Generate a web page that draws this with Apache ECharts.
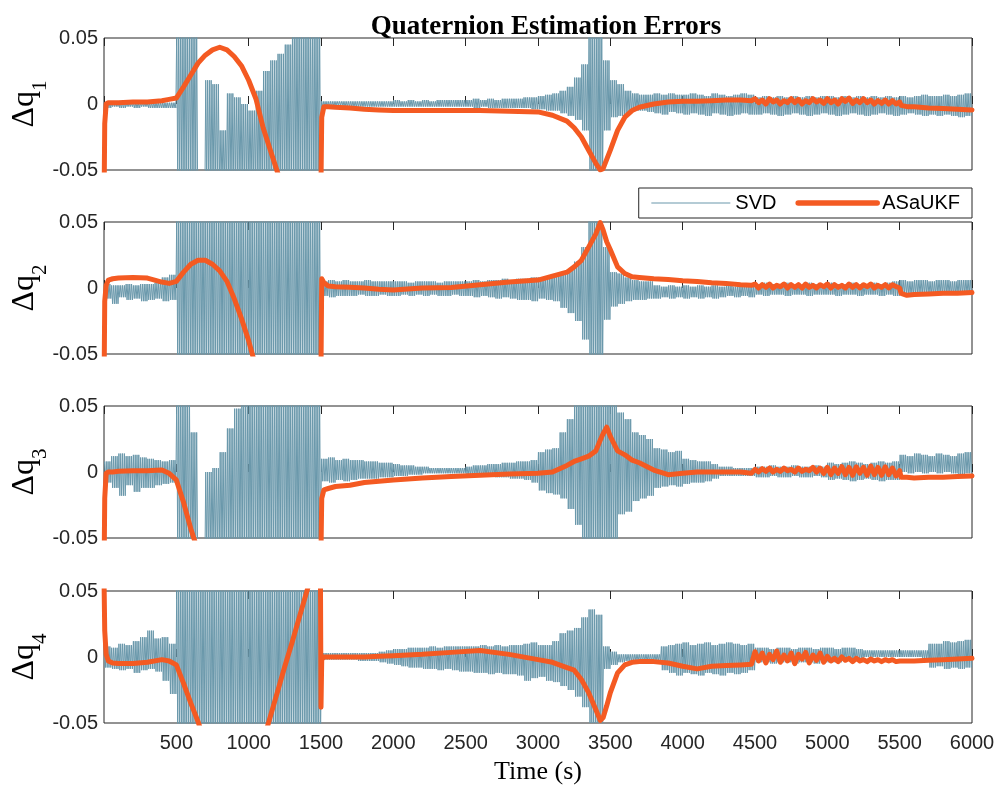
<!DOCTYPE html>
<html>
<head>
<meta charset="utf-8">
<script src="https://cdn.jsdelivr.net/npm/echarts@6/dist/echarts.min.js"></script>
<style>html,body{margin:0;padding:0;background:#fff}#c{width:1002px;height:790px}</style>
</head>
<body>
<div id="c"></div>
<script>
// ---------------- DATA (values in units of 1e-3) ----------------
const SCALE = 0.001;
const xTicks = [500,1000,1500,2000,2500,3000,3500,4000,4500,5000,5500,6000];
const yTicks = [-0.05, 0, 0.05];
const panelLabels = ['1','2','3','4'];

// SVD: upper / lower envelope of the noisy trace, read per 50 s bin (0-50, 50-100, ... 5950-6000)
const svdBin = 50;
const svdHi1 = [1,1,1,1,1,1,1,1,1,1, 60,60,60,-60,18,15,-20,8,5,0, -5,10,25,33,38,45,60,60,60,60, 2,2,2,2,2,2,2,2,2,2, 3,2,3,2,3,2,3,3,3,3, 3,4,3,4,3,4,4,4,5,5, 6,7,8,10,13,20,30,60,60,33, 18,15,10,8,7,7,8,7,8,7, 7,8,7,6,8,7,6,7,8,7, 5,6,5,6,5,6,5,6,5,6, 6,5,6,5,6,5,6,5,6,5, 6,5,6,7,6,6,7,6,7,8];
const svdLo1 = [-3,-2,-3,-2,-3,-2,-3,-3,-3,-3, -60,-60,-60,-80,-60,-60,-60,-60,-60,-60, -60,-60,-60,-60,-60,-60,-60,-60,-60,-60, -2,-2,-1,-2,-2,-2,-2,-2,-2,-2, -2,-2,-2,-2,-2,-2,-2,-2,-2,-2, -2,-3,-2,-3,-3,-3,-3,-3,-3,-4, -4,-5,-5,-7,-9,-12,-20,-55,-55,-20, -10,-9,-7,-5,-5,-6,-7,-8,-6,-7, -8,-7,-8,-9,-7,-8,-9,-8,-7,-8, -8,-7,-8,-9,-8,-7,-8,-9,-8,-7, -8,-9,-8,-7,-8,-9,-8,-7,-8,-9, -8,-7,-8,-9,-8,-9,-8,-9,-10,-9];
const svdHi2 = [3,2,2,3,2,3,3,4,8,10, 60,60,60,60,60,60,60,60,60,60, 60,60,60,60,60,60,60,60,60,60, 5,6,5,6,5,5,6,5,5,5, 5,5,4,5,5,5,4,5,5,5, 5,6,5,6,6,7,6,7,7,8, 8,8,10,12,14,20,31,55,55,31, 12,11,8,6,5,5,2,1,2,1, 2,1,2,1,2,1,2,1,2,1, 3,4,3,3,4,3,3,4,3,3, 4,3,3,4,3,3,4,3,4,5, 6,5,6,6,5,6,6,5,6,6];
const svdLo2 = [-8,-12,-7,-9,-8,-10,-9,-8,-10,-9, -60,-60,-60,-60,-60,-60,-60,-60,-60,-60, -60,-60,-60,-60,-60,-60,-60,-60,-60,-60, -6,-7,-6,-6,-6,-5,-6,-6,-5,-6, -6,-5,-6,-5,-6,-5,-6,-6,-5,-6, -6,-7,-6,-7,-8,-7,-8,-9,-9,-10, -8,-9,-10,-15,-19,-25,-39,-60,-60,-24, -14,-12,-10,-9,-9,-8,-8,-7,-8,-7, -8,-7,-8,-7,-8,-7,-6,-7,-6,-7, -5,-6,-5,-5,-6,-5,-5,-6,-5,-5, -5,-6,-5,-5,-6,-5,-5,-6,-5,-6, -4,-5,-4,-4,-5,-4,-4,-5,-4,-4];
const svdHi3 = [8,12,14,12,13,11,10,9,8,9, 60,60,30,-60,0,3,15,33,48,60, 60,60,60,60,60,60,60,60,60,60, 10,11,9,10,9,9,8,8,7,7, 6,5,5,4,4,3,3,3,3,3, 4,5,5,6,6,7,7,8,8,9, 15,17,18,30,40,55,60,60,60,60, 60,45,40,30,28,25,18,17,15,16, 10,9,8,8,6,4,4,3,3,3, 4,4,5,4,4,5,4,4,5,4, 7,6,7,8,7,6,7,8,7,8, 13,12,14,13,12,14,13,12,14,15];
const svdLo3 = [-8,-12,-18,-10,-15,-12,-12,-10,-9,-8, -60,-60,-60,-80,-60,-60,-60,-60,-60,-60, -60,-60,-60,-60,-60,-60,-60,-60,-60,-60, -7,-8,-6,-7,-6,-5,-5,-5,-4,-4, -3,-3,-2,-2,-1,-1,-1,-1,-1,-1, -2,-2,-3,-3,-4,-4,-5,-5,-6,-8, -14,-16,-17,-20,-28,-40,-60,-60,-60,-60, -55,-32,-30,-22,-20,-18,-12,-11,-10,-11, -9,-8,-8,-7,-5,-3,-3,-3,-3,-3, -4,-4,-3,-4,-4,-3,-4,-4,-3,-4, -6,-5,-6,-7,-6,-5,-6,-7,-6,-6, 0,-1,0,-1,0,-1,0,-1,-2,-1];
const svdHi4 = [8,7,10,9,12,15,20,14,15,10, 60,60,60,60,60,60,60,60,60,60, 60,60,60,60,60,60,60,60,60,60, 3,3,3,3,3,3,3,3,4,5, 6,6,7,7,7,8,7,8,8,8, 8,8,9,8,9,8,9,9,10,11, 9,9,12,18,20,22,30,36,32,8, 4,2,2,2,2,2,2,8,9,10, 11,9,10,11,9,10,11,10,9,10, 7,7,6,7,7,6,7,7,6,7, 7,6,7,7,6,5,5,5,5,5, 5,5,5,5,10,10,12,11,12,13];
const svdLo4 = [-8,-9,-10,-9,-12,-10,-9,-11,-18,-28, -60,-60,-60,-60,-60,-60,-60,-60,-60,-60, -60,-60,-60,-60,-60,-60,-60,-60,-60,-60, -2,-2,-2,-2,-2,-3,-3,-3,-4,-5, -6,-7,-8,-8,-9,-9,-10,-9,-10,-11, -11,-12,-12,-13,-12,-13,-13,-14,-18,-16, -15,-18,-19,-22,-25,-30,-38,-50,-50,-9, -6,-4,-3,-3,-3,-3,-3,-10,-12,-14, -12,-13,-14,-12,-13,-14,-12,-13,-12,-10, -4,-4,-5,-4,-4,-5,-4,-4,-5,-4, -4,-4,-3,-3,-2,0,0,0,0,0, 0,0,0,-1,-8,-7,-9,-8,-9,-8];

// ASaUKF: sample times (s) and values (units of 1e-3)
const ukfTime = [0,5,15,30,60,100,200,300,400,450,
  500,550,600,650,700,750,800,850,900,950,
  1000,1050,1100,1150,1200,1250,1300,1350,1400,1450,
  1495,1500,1505,1520,1550,1600,1700,1800,1900,2000,
  2200,2400,2600,2800,3000,3100,3200,3250,3300,3350,
  3400,3430,3450,3475,3500,3550,3600,3650,3700,3800,
  3900,4000,4100,4200,4300,4400,4475,
  4500,4525,4550,4575,4600,4625,4650,4675,4700,4725,
  4750,4775,4800,4825,4850,4875,4900,4925,4950,4975,
  5000,5025,5050,5075,5100,5125,5150,5175,5200,5225,
  5250,5275,5300,5325,5350,5375,5400,5425,5450,5475,
  5500,
  5510,5550,5600,5700,5800,5900,6000];
const ukf1 = [-80,-15,0,1,1,1,1.5,1.5,2.5,3.5,
  4.5,13,22,31,37,41,43,41,36,29,
  18,4,-18,-35,-52,-70,-90,-100,-100,-100,
  -100,-60,-10,-2,-2,-2.5,-3,-4,-4.5,-5,
  -5,-5,-5,-5.5,-6,-8.5,-13,-18,-25,-35,
  -45,-50,-49,-42,-35,-20,-10,-5,-2.5,0,
  1.5,2,2,2.5,3,3,2.5,
  4,1,3,0,4,1.5,3,0,2.5,1,
  4,1,3.5,0,2.5,1,4,1.5,3,0.5,
  4,1,3,0,4,2,4.5,0.5,3,1,
  4,1,3,0,2.5,0.5,3,0,2.5,0,
  1.5,
  -1,-2,-2,-3,-3.5,-4,-4.5];
const ukf2 = [-80,-10,2,6,7,7.5,8,7.5,4.5,3.5,
  5,12,18,21,21,18,13,5,-8,-23,
  -40,-60,-80,-100,-100,-100,-100,-100,-100,-100,
  -100,-60,7,4,1.5,1,0.5,0,-1,-1.5,
  0,0.3,2.5,4.5,6,9,12,16,21,31,
  41,49.5,44,35,29,16,11,8.5,8,7,
  6.5,5.5,5,4,3.5,2.5,2,
  3,0,2.5,0.5,3,0,2,1,3,0,
  2.5,0.5,2.5,0,3,0.5,2,0,2.5,1,
  3,0,2.5,0.5,2,0,3,0.5,2.5,0,
  2.5,1,3,0,2,0.5,2.5,0,2.5,1,
  0,
  -4,-5.5,-5,-4.5,-4,-4,-3.5];
const ukf3 = [-80,-20,-1,0,0,0.5,1,1,1.5,-1,
  -6,-23,-43,-60,-80,-100,-100,-100,-100,-100,
  -100,-100,-100,-100,-100,-100,-100,-100,-100,-100,
  -100,-60,-20,-13.5,-12.5,-11,-10,-8,-7,-6,
  -4.5,-3.5,-2.5,-1.5,-1,0,5,8,10,12,
  16,24,29,34,27,16,13,9,7,1.5,
  -2,-1,0,0,0,0,-1,
  2,0,2.5,0.5,3,0,2,0.5,3,1,
  2,0,3,0.5,2,1,3.5,0,3,-1,
  3.5,-2,3,-1,4,-2,3.5,-2.5,4,-1,
  3.5,-2.5,4.5,-2,3.5,-2.5,4,-2,3,-3,
  1,
  -4,-4,-4.5,-4,-4,-3.5,-3];
const ukf4 = [60,20,2,-3,-4.5,-5,-5,-4,-2,-3,
  -6,-20,-35,-49,-65,-80,-100,-100,-100,-100,
  -100,-100,-64,-45,-26,-7,11,30,49,68,
  90,-38,-2,0,0,0,0,0,0.5,1,
  2,3.5,5,2,-2,-4,-8,-10,-17,-27,
  -40,-48,-46,-37,-27,-12,-6,-4,-3.5,-3.5,
  -4.5,-7,-9,-7,-6.5,-6,-5.5,
  4,-3,3,-4.5,2,-2,4.5,-4,1.5,-3,
  3,-5,2,-1.5,3.5,-4.5,1.5,-2.5,3,-4,
  0.5,-3,-1,-3.5,0,-2.5,-1,-3.5,-1,-3,
  -2,-3.5,-1.5,-3,-2,-3.5,-2,-3,-2,-3.5,
  -3,
  -3,-3,-3,-2.5,-2,-1.5,-1];

const svdHi = [svdHi1, svdHi2, svdHi3, svdHi4];
const svdLo = [svdLo1, svdLo2, svdLo3, svdLo4];
const ukf = [ukf1, ukf2, ukf3, ukf4];

// ---------------- BUILD ----------------
const SVD_COLOR = '#6a98ab';
const UKF_COLOR = '#f45a22';
const SUB = 4; // hi/lo strokes drawn per envelope bin
function svdTrace(hi, lo) {
  const pts = [];
  for (let i = 0; i < hi.length; i++) {
    const t0 = i * svdBin;
    for (let k = 0; k < SUB; k++) {
      pts.push([t0 + (k + 0.25) * svdBin / SUB, hi[i] * SCALE]);
      pts.push([t0 + (k + 0.75) * svdBin / SUB, lo[i] * SCALE]);
    }
  }
  return pts;
}
function ukfTrace(v) { return ukfTime.map((t, i) => [t, v[i] * SCALE]); }

const tops = [38, 222, 406, 591];
const grid = tops.map(t => ({left: 104, right: 30, top: t, height: 132, show: true, containLabel: false,
  outerBoundsMode: 'none',
  borderColor: '#262626', borderWidth: 1, backgroundColor: 'rgba(0,0,0,0)'}));

const xAxis = [], yAxis = [], series = [];
const xMin = 0, xMax = 6000, xInt = xTicks[1] - xTicks[0];
for (let p = 0; p < 4; p++) {
  const last = p === 3;
  xAxis.push({type: 'value', gridIndex: p, min: xMin, max: xMax, interval: xInt, position: 'bottom',
    axisLine: {show: false}, splitLine: {show: false},
    axisTick: {show: true, inside: true, length: 8, lineStyle: {color: '#262626', width: 1}},
    axisLabel: {show: last, margin: 10, fontSize: 20, fontFamily: 'Liberation Sans', color: '#262626',
      formatter: v => (xTicks.indexOf(v) >= 0 ? String(v) : ''), showMinLabel: false, showMaxLabel: true},
    name: last ? 'Time (s)' : '', nameLocation: 'middle', nameGap: 36,
    nameTextStyle: {fontFamily: 'Liberation Serif', fontSize: 26, color: '#000'}
  });
}
for (let p = 0; p < 4; p++) {
  xAxis.push({type: 'value', gridIndex: p, min: xMin, max: xMax, interval: xInt, position: 'top',
    axisLine: {show: false}, splitLine: {show: false}, axisLabel: {show: false},
    axisTick: {show: true, inside: true, length: 8, lineStyle: {color: '#262626', width: 1}}});
}
for (let p = 0; p < 4; p++) {
  yAxis.push({type: 'value', gridIndex: p, min: yTicks[0], max: yTicks[2], interval: yTicks[2] - yTicks[1],
    axisLine: {show: false}, axisTick: {show: false}, splitLine: {show: false},
    axisLabel: {margin: 6, fontSize: 20, fontFamily: 'Liberation Sans', color: '#262626',
      formatter: v => (Math.abs(v) < 1e-9 ? '0' : v.toFixed(2))},
    name: '{a|\u0394q}{b|' + panelLabels[p] + '}', nameLocation: 'middle', nameRotate: 90, nameGap: 53,
    nameMoveOverlap: false,
    nameTextStyle: {rich: {
      a: {fontFamily: 'Liberation Serif', fontSize: 32, color: '#000', lineHeight: 36, verticalAlign: 'top'},
      b: {fontFamily: 'Liberation Serif', fontSize: 21, color: '#000', lineHeight: 42, verticalAlign: 'bottom'}
    }}
  });
  series.push({type: 'line', name: 'SVD', xAxisIndex: p, yAxisIndex: p, data: svdTrace(svdHi[p], svdLo[p]),
    symbol: 'none', clip: true, z: 2, lineStyle: {color: SVD_COLOR, width: 1}, itemStyle: {color: SVD_COLOR}});
  series.push({type: 'line', name: 'ASaUKF', xAxisIndex: p, yAxisIndex: p, data: ukfTrace(ukf[p]),
    symbol: 'none', clip: true, z: 3, lineStyle: {color: UKF_COLOR, width: 5, join: 'round', cap: 'round'},
    itemStyle: {color: UKF_COLOR}});
}

const chart = echarts.init(document.getElementById('c'), null, {renderer: 'canvas'});
chart.setOption({
  animation: false,
  backgroundColor: '#fff',
  title: {text: 'Quaternion Estimation Errors', left: 541, top: 9, textAlign: 'center',
    textStyle: {fontFamily: 'Liberation Serif', fontWeight: 'bold', fontSize: 27, color: '#000'}},
  legend: {data: [{name: 'SVD', lineStyle: {width: 1.2}}, {name: 'ASaUKF', lineStyle: {width: 5.5}}],
    top: 188, right: 30, orient: 'horizontal',
    itemWidth: 79, itemHeight: 14, itemGap: 19, padding: [5, 12, 5, 12],
    itemStyle: {color: 'rgba(0,0,0,0)', borderWidth: 0, opacity: 0},
    borderColor: '#262626', borderWidth: 1, backgroundColor: '#fff', borderRadius: 0,
    textStyle: {fontFamily: 'Liberation Sans', fontSize: 20, color: '#000'}},
  grid, xAxis, yAxis, series
});
</script>
</body>
</html>
